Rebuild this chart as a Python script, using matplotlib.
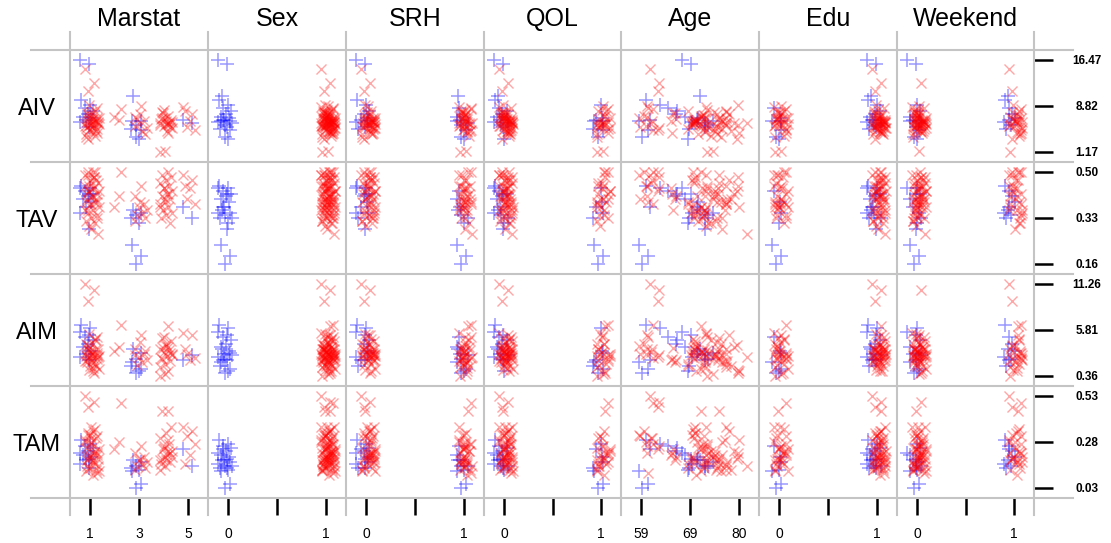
import numpy as np
import pandas as pd
import matplotlib
matplotlib.use("Agg")
from matplotlib import pyplot as plt
from matplotlib.lines import Line2D

plt.rcParams['font.family'] = ['Liberation Sans', 'DejaVu Sans']

x_vars = ["Marstat", "Sex", "SRH", "QOL", "Age", "Edu", "Weekend"]
y_vars = ["AIV", "TAV", "AIM", "TAM"]
x_tick_labels = [["1", "3", "5"], ["0", "", "1"], ["0", "", "1"], ["0", "", "1"],
                 ["59", "69", "80"], ["0", "", "1"], ["0", "", "1"]]

# blue group (+)
blue_marstat = [1, 1, 3, 3, 3, 1, 1, 1, 1, 1, 1, 1, 1, 1, 1, 3, 3, 3, 3, 3, 5, 5]
blue_sex = [0] * 22
blue_srh = [0, 0, 1, 1, 1, 0, 0, 1, 0, 0, 1, 0, 1, 0, 0, 1, 0, 1, 0, 1, 0, 1]
blue_qol = [0, 0, 1, 1, 1, 0, 1, 0, 0, 0, 0, 1, 0, 0, 0, 0, 1, 0, 1, 0, 1, 0]
blue_age = [70, 70, 60, 60, 60, 62, 63, 66, 66, 67, 70, 71, 72, 72, 73, 73, 74, 74, 71, 69, 62, 72]
blue_edu = [1, 1, 0, 0, 0, 1, 1, 0, 1, 1, 1, 0, 1, 1, 1, 1, 0, 1, 1, 0, 1, 1]
blue_weekend = [0, 0, 0, 0, 0, 1, 0, 1, 0, 1, 0, 1, 0, 1, 0, 1, 0, 1, 1, 0, 1, 0]
blue_aiv = [16.47, 15.8, 6.3, 4.8, 3.6, 9.8, 9.0, 8.5, 8.0, 7.5, 7.0, 6.8, 6.5, 6.1, 5.3,
            10.5, 6.3, 5.7, 5.0, 3.3, 6.5, 6.0]
blue_tav = [0.44, 0.42, 0.23, 0.19, 0.16, 0.45, 0.44, 0.43, 0.42, 0.41, 0.40, 0.39, 0.37, 0.35, 0.29,
            0.36, 0.35, 0.34, 0.33, 0.31, 0.37, 0.33]
blue_aim = [5.6, 5.2, 2.0, 1.2, 0.7, 6.4, 6.0, 5.0, 4.6, 4.2, 3.8, 3.3, 3.0, 2.6, 2.2,
            3.5, 3.1, 2.4, 1.5, 0.9, 2.2, 2.8]
blue_tam = [0.22, 0.19, 0.12, 0.05, 0.03, 0.29, 0.27, 0.26, 0.25, 0.23, 0.21, 0.20, 0.18, 0.16, 0.14,
            0.18, 0.17, 0.15, 0.14, 0.13, 0.24, 0.15]

# red group (x)
red_marstat = [1, 1, 1, 2, 4, 4, 2, 2, 1, 1,
               1, 1, 1, 1, 1, 1, 1, 1, 1, 1,
               1, 1, 1, 1, 1, 1, 1, 1, 1, 1,
               1, 1, 1, 1, 1, 1, 1, 1, 3, 3,
               3, 3, 3, 3, 3, 3, 3, 3, 4, 4,
               4, 4, 4, 4, 4, 4, 4, 4, 4, 4,
               4, 4, 4, 4, 4, 4, 4, 4, 5, 5,
               5, 5, 5, 5, 1, 1, 1, 1, 1, 1,
               1, 1, 4, 1]
red_sex = [1] * 84
red_srh = [0, 0, 0, 1, 1, 1, 0, 1, 1, 0,
           1, 0, 0, 1, 0, 1, 0, 0, 1, 0,
           1, 0, 1, 0, 0, 1, 0, 1, 0, 0,
           1, 0, 1, 0, 1, 0, 0, 1, 0, 1,
           0, 1, 0, 1, 0, 0, 1, 0, 1, 0,
           0, 1, 0, 1, 1, 0, 0, 1, 0, 1,
           1, 0, 1, 0, 0, 1, 0, 1, 1, 0,
           0, 1, 0, 1, 0, 1, 0, 1, 0, 0,
           1, 0, 1, 0]
red_qol = [0, 0, 0, 1, 1, 1, 0, 0, 0, 1,
           0, 0, 1, 0, 0, 0, 1, 0, 0, 1,
           0, 0, 1, 0, 0, 0, 1, 0, 1, 0,
           0, 1, 0, 0, 0, 1, 0, 0, 1, 0,
           0, 1, 0, 0, 1, 0, 0, 0, 1, 0,
           0, 0, 1, 0, 0, 1, 0, 0, 1, 0,
           1, 0, 0, 0, 1, 0, 0, 1, 0, 0,
           1, 0, 0, 1, 0, 0, 1, 0, 0, 1,
           0, 1, 0, 0]
red_age = [62, 62, 63, 60, 74, 74, 70, 72, 80, 59,
           59, 60, 61, 61, 62, 63, 64, 66, 67, 68,
           69, 70, 70, 71, 71, 72, 72, 73, 73, 74,
           75, 76, 77, 77, 78, 79, 80, 59, 60, 61,
           69, 70, 71, 72, 73, 74, 75, 76, 71, 76,
           69, 70, 71, 72, 72, 73, 74, 75, 76, 77,
           78, 79, 66, 68, 70, 71, 72, 73, 74, 77,
           59, 60, 65, 78, 69, 70, 71, 72, 73, 75,
           76, 77, 78, 80]
red_edu = [1, 1, 1, 0, 0, 0, 1, 0, 1, 1,
           0, 1, 1, 0, 1, 1, 0, 1, 1, 0,
           1, 0, 1, 1, 0, 1, 1, 0, 1, 1,
           0, 1, 1, 0, 1, 0, 1, 1, 0, 1,
           1, 0, 1, 1, 0, 1, 0, 1, 1, 0,
           1, 1, 0, 1, 0, 1, 1, 0, 1, 1,
           0, 1, 0, 1, 1, 0, 1, 1, 0, 1,
           1, 0, 1, 1, 0, 1, 0, 1, 1, 0,
           1, 0, 1, 1]
red_weekend = [1, 0, 1, 1, 0, 1, 0, 0, 0, 0,
               1, 0, 0, 1, 0, 0, 1, 0, 0, 1,
               0, 0, 1, 0, 1, 0, 0, 1, 0, 0,
               1, 0, 0, 0, 1, 0, 1, 0, 0, 1,
               0, 0, 1, 0, 0, 1, 0, 0, 1, 0,
               0, 1, 0, 0, 1, 0, 0, 1, 0, 0,
               1, 0, 0, 1, 0, 0, 1, 0, 0, 1,
               0, 1, 0, 0, 1, 0, 0, 1, 0, 0,
               1, 0, 0, 1]
red_aiv = [15.0, 12.6, 11.3, 8.3, 1.4, 1.17, 6.5, 7.0, 6.0, 7.2,
           6.8, 6.3, 5.9, 5.5, 5.2, 4.8, 4.4, 6.6, 7.6, 8.0,
           5.0, 5.8, 6.2, 6.4, 6.9, 7.4, 4.2, 3.8, 5.6, 6.1,
           6.7, 5.3, 4.6, 7.8, 6.0, 5.7, 3.4, 8.5, 8.8, 7.0,
           6.4, 5.9, 5.2, 4.6, 6.6, 4.1, 7.5, 5.5, 7.2, 6.8,
           6.5, 6.3, 6.0, 5.8, 5.5, 5.1, 4.7, 7.9, 6.1, 6.9,
           5.6, 4.3, 7.6, 6.2, 5.9, 6.7, 5.3, 8.2, 8.6, 7.5,
           5.4, 4.8, 6.3, 8.0, 6.2, 5.7, 6.9, 4.5, 7.3, 5.0,
           6.4, 3.6, 6.0, 9.0]
red_tav = [0.49, 0.48, 0.50, 0.50, 0.40, 0.37, 0.41, 0.37, 0.27, 0.50,
           0.49, 0.47, 0.46, 0.45, 0.44, 0.43, 0.42, 0.41, 0.40, 0.39,
           0.38, 0.37, 0.36, 0.35, 0.34, 0.33, 0.32, 0.31, 0.30, 0.46,
           0.44, 0.42, 0.40, 0.38, 0.36, 0.48, 0.43, 0.39, 0.45, 0.41,
           0.38, 0.37, 0.36, 0.35, 0.34, 0.33, 0.39, 0.32, 0.50, 0.49,
           0.48, 0.47, 0.46, 0.45, 0.44, 0.43, 0.42, 0.41, 0.40, 0.39,
           0.38, 0.37, 0.36, 0.35, 0.34, 0.33, 0.31, 0.44, 0.49, 0.47,
           0.40, 0.38, 0.44, 0.45, 0.50, 0.47, 0.43, 0.41, 0.36, 0.33,
           0.29, 0.39, 0.42, 0.45]
red_aim = [11.26, 10.5, 9.2, 6.4, 0.6, 0.36, 3.8, 3.3, 2.6, 4.2,
           3.9, 3.5, 3.2, 3.0, 2.8, 2.6, 2.4, 2.2, 2.0, 1.8,
           1.5, 1.2, 0.9, 3.4, 3.1, 2.9, 2.7, 4.6, 5.3, 3.6,
           2.5, 2.3, 1.6, 3.0, 2.1, 0.7, 4.0, 5.0, 5.2, 3.6,
           3.0, 2.6, 2.3, 2.0, 1.7, 3.3, 4.4, 2.8, 6.3, 4.9,
           4.5, 3.9, 3.6, 3.4, 3.2, 3.0, 2.7, 2.4, 2.1, 1.8,
           1.4, 1.0, 3.7, 2.9, 4.2, 2.5, 3.1, 5.0, 5.5, 5.2,
           3.0, 2.5, 2.2, 3.6, 4.8, 3.3, 2.7, 1.3, 3.5, 2.9,
           2.0, 4.1, 3.8, 1.1]
red_tam = [0.53, 0.50, 0.47, 0.49, 0.20, 0.18, 0.28, 0.24, 0.15, 0.34,
           0.32, 0.30, 0.30, 0.28, 0.26, 0.24, 0.22, 0.20, 0.18, 0.16,
           0.14, 0.12, 0.10, 0.33, 0.31, 0.27, 0.25, 0.23, 0.21, 0.19,
           0.17, 0.15, 0.13, 0.36, 0.29, 0.22, 0.19, 0.11, 0.26, 0.22,
           0.20, 0.18, 0.17, 0.16, 0.15, 0.14, 0.19, 0.13, 0.45, 0.45,
           0.36, 0.33, 0.30, 0.27, 0.25, 0.23, 0.21, 0.19, 0.17, 0.15,
           0.13, 0.29, 0.24, 0.20, 0.18, 0.16, 0.22, 0.26, 0.36, 0.34,
           0.31, 0.27, 0.21, 0.16, 0.35, 0.32, 0.24, 0.18, 0.14, 0.21,
           0.28, 0.12, 0.23, 0.20]

blue = pd.DataFrame({"Marstat": blue_marstat, "Sex": blue_sex, "SRH": blue_srh, "QOL": blue_qol,
                     "Age": blue_age, "Edu": blue_edu, "Weekend": blue_weekend,
                     "AIV": blue_aiv, "TAV": blue_tav, "AIM": blue_aim, "TAM": blue_tam})
red = pd.DataFrame({"Marstat": red_marstat, "Sex": red_sex, "SRH": red_srh, "QOL": red_qol,
                    "Age": red_age, "Edu": red_edu, "Weekend": red_weekend,
                    "AIV": red_aiv, "TAV": red_tav, "AIM": red_aim, "TAM": red_tam})
both = pd.concat([blue, red])

W, H = 1111, 543
fig = plt.figure(figsize=(W / 100, H / 100), dpi=100)

# panel edges in pixels
col_px = [70, 208, 346, 484, 621, 759, 897, 1034]
row_px = [50, 162, 274, 386, 498]
grid_col = '#c4c4c4'


def fx(px):
    return px / W


def fy(py):
    return 1 - py / H


def spread(n):
    # fixed side-to-side spread so points at the same category don't stack
    return ((np.arange(n) * 0.618034) % 1.0 - 0.5) * 2


for r, yv in enumerate(y_vars):
    ymin, ymax = both[yv].min(), both[yv].max()
    h_px = row_px[r + 1] - row_px[r]
    ypad = (ymax - ymin) * 10 / (h_px - 20)
    for c, xv in enumerate(x_vars):
        xmin, xmax = both[xv].min(), both[xv].max()
        w_px = col_px[c + 1] - col_px[c]
        upp = (xmax - xmin) / (w_px - 40)
        ax = fig.add_axes([fx(col_px[c]), fy(row_px[r + 1]), w_px / W, h_px / H])
        ax.set_xlim(xmin - 20 * upp, xmax + 20 * upp)
        ax.set_ylim(ymin - ypad, ymax + ypad)
        ax.patch.set_alpha(0)
        for df, mk, colr, off, ms, mew, a in [(blue, '+', 'blue', -3, 9.5, 1.1, 0.4),
                                              (red, 'x', 'red', 2, 7, 1.0, 0.35)]:
            xs = df[xv].values + (off + 7 * spread(len(df))) * upp
            ax.plot(xs, df[yv].values, ls='none', marker=mk, color=colr, ms=ms, mew=mew,
                    alpha=a, clip_on=False)
        for s in ax.spines.values():
            s.set_visible(False)
        ax.set_xticks([])
        ax.set_yticks([])
        if r == len(y_vars) - 1:
            ax.set_xticks([xmin, (xmin + xmax) / 2, xmax])
            ax.set_xticklabels(x_tick_labels[c])
            ax.tick_params(axis='x', bottom=True, direction='out', length=12, width=1.8,
                           pad=9, labelsize=10, color='black')
        if c == len(x_vars) - 1:
            ax.yaxis.tick_right()
            yt = [ymin, (ymin + ymax) / 2, ymax]
            ax.set_yticks(yt)
            ax.set_yticklabels(["%.2f" % v for v in yt])
            ax.tick_params(axis='y', right=True, left=False, direction='out', length=14,
                           width=1.8, pad=24, labelsize=8.5, color='black')
            for lbl in ax.get_yticklabels():
                lbl.set_fontweight('bold')
                lbl.set_ha('center')

# grey frame lines
for px in col_px:
    fig.add_artist(Line2D([fx(px), fx(px)], [fy(32), fy(515)], color=grid_col, lw=1.5))
for py in row_px:
    fig.add_artist(Line2D([fx(31), fx(1073)], [fy(py), fy(py)], color=grid_col, lw=1.5))

for c, name in enumerate(x_vars):
    fig.text(fx((col_px[c] + col_px[c + 1]) / 2), fy(26), name, ha='center', va='baseline', fontsize=18)
for r, name in enumerate(y_vars):
    fig.text(fx(37), fy((row_px[r] + row_px[r + 1]) / 2 + 9), name, ha='center', va='baseline', fontsize=17)

plt.savefig("out.png", dpi=100)
